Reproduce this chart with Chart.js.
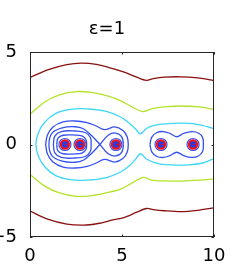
<!DOCTYPE html>
<html>
<head>
<meta charset="utf-8">
<script src="https://cdn.jsdelivr.net/npm/chart.js@4.4.1/dist/chart.umd.min.js"></script>
<style>
    html, body { margin: 0; padding: 0; background: #ffffff; }
    #wrap { width: 249px; height: 264px; }
</style>
</head>
<body>
<div id="wrap"><canvas id="chart"></canvas></div>
<script>
const title = "ε=1";
const xTicks = [0, 5, 10];
const yTicks = [-5, 0, 5];

// charge positions along y = 0
const chargeX = [1.9, 2.72, 4.67, 7.12, 8.86];
const chargeY = [0, 0, 0, 0, 0];

// contour lines as [x, y]
const darkRedTop = [[0, 3.62], [1, 4.05], [2, 4.32], [2.8, 4.4], [3.6, 4.33], [4.5, 4.1], [5.2, 3.88], [5.8, 3.64], [6.32, 3.47], [6.7, 3.56], [7.3, 3.64], [8.2, 3.66], [9.1, 3.6], [10, 3.46]];
const darkRedBottom = [[0, -3.6], [1, -4.05], [2, -4.3], [2.9, -4.36], [3.7, -4.27], [4.5, -4.08], [5.1, -3.95], [5.8, -3.66], [6.34, -3.46], [6.7, -3.52], [7.3, -3.58], [8.2, -3.63], [9.1, -3.56], [10, -3.42]];
const greenTop = [[0, 1.63], [0.8, 2.3], [1.6, 2.68], [2.5, 2.86], [3.4, 2.8], [4.3, 2.6], [5.0, 2.33], [5.6, 2.0], [6.15, 1.78], [6.6, 1.93], [7.3, 2.03], [8.2, 2.08], [9.2, 2.03], [10, 1.9]];
const greenBottom = [[0, -1.62], [0.8, -2.25], [1.6, -2.62], [2.5, -2.8], [3.4, -2.76], [4.3, -2.58], [5.0, -2.38], [5.6, -2.05], [6.15, -1.78], [6.6, -1.92], [7.3, -1.97], [8.2, -1.98], [9.2, -1.93], [10, -1.86]];
const cyanLine = [[10, 0.85], [9.3, 1.05], [8.4, 1.15], [7.4, 1.12], [6.8, 1.05], [6.35, 0.88], [6.0, 0.58], [5.75, 0.82], [5.4, 1.15], [4.9, 1.5], [4.1, 1.8], [3.1, 1.93], [2.2, 1.9], [1.4, 1.68], [0.8, 1.2], [0.45, 0.62], [0.32, 0], [0.45, -0.62], [0.8, -1.2], [1.4, -1.68], [2.2, -1.9], [3.1, -1.93], [4.1, -1.8], [4.9, -1.5], [5.4, -1.15], [5.75, -0.78], [6.0, -0.5], [6.35, -0.8], [6.9, -1.02], [7.6, -1.1], [8.6, -1.1], [9.4, -1.0], [10, -0.76]];
const blueOuterLeft = [[0.85, 0], [0.95, 0.52], [1.25, 0.95], [1.8, 1.22], [2.45, 1.27], [3.1, 1.18], [3.6, 1.0], [4.05, 0.8], [4.6, 0.95], [5.05, 0.76], [5.28, 0.42], [5.34, 0], [5.28, -0.42], [5.05, -0.76], [4.6, -0.95], [4.05, -0.8], [3.6, -1.0], [3.1, -1.18], [2.45, -1.27], [1.8, -1.22], [1.25, -0.95], [0.95, -0.52], [0.85, 0]];
const blueLobePair = [[3.8, 0], [3.33, 0.5], [2.9, 0.85], [2.45, 0.96], [1.75, 0.9], [1.2, 0.62], [1.03, 0], [1.2, -0.62], [1.75, -0.9], [2.45, -0.96], [2.9, -0.85], [3.33, -0.5], [3.8, 0]];
const blueLobeThird = [[3.8, 0], [4.25, 0.5], [4.65, 0.62], [4.98, 0.42], [5.07, 0], [4.98, -0.42], [4.65, -0.62], [4.25, -0.5], [3.8, 0]];
const bluePairMid = [[1.27, 0], [1.35, 0.45], [1.7, 0.7], [2.45, 0.73], [3.0, 0.65], [3.28, 0.38], [3.32, 0], [3.28, -0.38], [3.0, -0.65], [2.45, -0.73], [1.7, -0.7], [1.35, -0.45], [1.27, 0]];
const bluePairInner = [[1.45, 0], [1.52, 0.34], [1.8, 0.5], [2.45, 0.51], [2.85, 0.45], [3.04, 0.27], [3.08, 0], [3.04, -0.27], [2.85, -0.45], [2.45, -0.51], [1.8, -0.5], [1.52, -0.34], [1.45, 0]];
const blueOuterRight = [[6.52, 0], [6.62, 0.4], [6.9, 0.65], [7.25, 0.7], [7.6, 0.6], [7.97, 0.42], [8.35, 0.6], [8.8, 0.7], [9.15, 0.62], [9.38, 0.38], [9.42, 0], [9.38, -0.38], [9.15, -0.62], [8.8, -0.7], [8.35, -0.6], [7.97, -0.42], [7.6, -0.6], [7.25, -0.7], [6.9, -0.65], [6.62, -0.4], [6.52, 0]];

const toPoints = (pairs) => pairs.map(([x, y]) => ({ x, y }));
const chargePoints = chargeX.map((x, i) => ({ x, y: chargeY[i] }));

const contour = (pairs, color, tension = 0.4) => ({
    data: toPoints(pairs),
    showLine: true,
    borderColor: color,
    borderWidth: 1.3,
    pointRadius: 0,
    tension: tension
});

const boxPlugin = {
    id: "box",
    afterDatasetsDraw(chart) {
        const { ctx, chartArea: a, scales: { x, y } } = chart;
        ctx.save();
        ctx.strokeStyle = "#262626";
        ctx.lineWidth = 1;
        ctx.strokeRect(Math.round(a.left) + 0.5, Math.round(a.top) + 0.5, Math.round(a.width) - 1, Math.round(a.height) - 1);
        ctx.beginPath();
        xTicks.forEach((v) => {
            const px = Math.round(x.getPixelForValue(v)) + 0.5;
            ctx.moveTo(px, a.bottom);
            ctx.lineTo(px, a.bottom - 2.5);
            ctx.moveTo(px, a.top);
            ctx.lineTo(px, a.top + 2.5);
        });
        yTicks.forEach((v) => {
            const py = Math.round(y.getPixelForValue(v)) + 0.5;
            ctx.moveTo(a.left, py);
            ctx.lineTo(a.left + 2.5, py);
            ctx.moveTo(a.right, py);
            ctx.lineTo(a.right - 2.5, py);
        });
        ctx.stroke();
        ctx.restore();
    }
};

Chart.defaults.font.family = "'DejaVu Sans', 'Liberation Sans', sans-serif";
Chart.defaults.color = "#000000";

new Chart(document.getElementById("chart"), {
    type: "scatter",
    data: {
        datasets: [
            {
                data: chargePoints,
                pointStyle: "dash",
                pointRadius: 2.2,
                borderColor: "#ff0000",
                borderWidth: 1.2
            },
            {
                data: chargePoints,
                pointRadius: 4.2,
                backgroundColor: "#2a3be0",
                borderColor: "#ff1010",
                borderWidth: 2
            },
            {
                data: chargePoints,
                pointRadius: 6,
                backgroundColor: "rgba(0,0,0,0)",
                borderColor: "#3550ee",
                borderWidth: 1.2
            },
            contour(bluePairInner, "#3550ee"),
            contour(bluePairMid, "#3550ee"),
            contour(blueLobePair, "#3550ee", 0.35),
            contour(blueLobeThird, "#3550ee", 0.35),
            contour(blueOuterLeft, "#3550ee"),
            contour(blueOuterRight, "#3550ee"),
            contour(cyanLine, "#3ad8f6", 0.35),
            contour(greenTop, "#b2e328", 0.3),
            contour(greenBottom, "#b2e328", 0.3),
            contour(darkRedTop, "#8a1010", 0.3),
            contour(darkRedBottom, "#8a1010", 0.3)
        ]
    },
    options: {
        responsive: true,
        maintainAspectRatio: false,
        animation: false,
        layout: {
            padding: { right: 35 }
        },
        plugins: {
            legend: { display: false },
            tooltip: { enabled: false },
            title: {
                display: true,
                text: title,
                font: { size: 18, weight: "normal" },
                color: "#000000",
                padding: { top: 19, bottom: 11.4 }
            }
        },
        scales: {
            x: {
                type: "linear",
                min: 0,
                max: 10,
                afterBuildTicks: (scale) => {
                    scale.ticks = xTicks.map((v) => ({ value: v }));
                },
                afterFit: (scale) => {
                    scale.height = 27;
                },
                grid: { display: false },
                border: { display: false },
                ticks: {
                    font: { size: 18 },
                    padding: 1,
                    maxRotation: 0
                }
            },
            y: {
                type: "linear",
                min: -5,
                max: 5,
                afterBuildTicks: (scale) => {
                    scale.ticks = yTicks.map((v) => ({ value: v }));
                },
                afterFit: (scale) => {
                    scale.width = 30;
                },
                grid: { display: false },
                border: { display: false },
                ticks: {
                    font: { size: 18 },
                    padding: 5,
                    callback: (v) => String(v).replace("-", "\u2212")
                }
            }
        }
    },
    plugins: [boxPlugin]
});
</script>
</body>
</html>
